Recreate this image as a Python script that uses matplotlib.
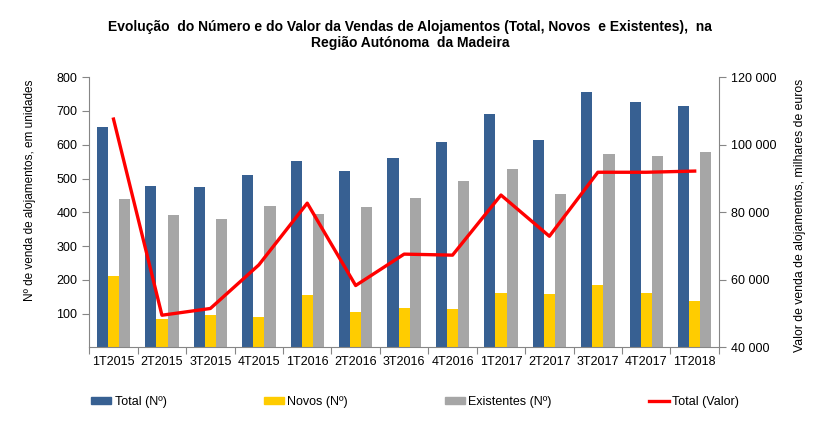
import matplotlib
matplotlib.use("Agg")
import matplotlib.pyplot as plt
import numpy as np
from matplotlib.ticker import FuncFormatter, FixedLocator
from matplotlib.patches import Patch
from matplotlib.lines import Line2D

plt.rcParams['font.family'] = ['Liberation Sans', 'DejaVu Sans']

categories = ["1T2015", "2T2015", "3T2015", "4T2015", "1T2016", "2T2016", "3T2016",
              "4T2016", "1T2017", "2T2017", "3T2017", "4T2017", "1T2018"]
total_n = [653, 478, 475, 511, 552, 522, 561, 608, 691, 614, 757, 727, 715]
novos_n = [211, 85, 96, 90, 155, 105, 117, 114, 161, 158, 185, 161, 138]
existentes_n = [440, 392, 380, 419, 395, 416, 442, 493, 528, 454, 573, 567, 579]
total_valor = [107600, 49500, 51500, 64400, 82700, 58300, 67600, 67300, 85100, 72900, 91850, 91850, 92200]

c_total = "#376092"
c_novos = "#FFCC00"
c_exist = "#A6A6A6"
c_line = "#FF0000"
spine_c = "#868686"

fig = plt.figure(figsize=(8.23, 4.22), dpi=100)
ax = fig.add_axes([0.1085, 0.177, 0.765, 0.64])
ax2 = ax.twinx()

x = np.arange(len(categories))
w = 0.23
ax.bar(x - w, total_n, w, color=c_total, zorder=2)
ax.bar(x, novos_n, w, color=c_novos, zorder=2)
ax.bar(x + w, existentes_n, w, color=c_exist, zorder=2)
ax2.plot(x, total_valor, color=c_line, lw=2.4, zorder=3)

ax.set_xlim(-0.5, len(categories) - 0.5)
ax.set_ylim(0, 800)
ax.set_yticks(range(100, 801, 100))
ax2.set_ylim(40000, 120000)
ax2.set_yticks(range(40000, 120001, 20000))
ax2.yaxis.set_major_formatter(FuncFormatter(lambda v, p: f"{int(v):,}".replace(",", " ")))

ax.xaxis.set_major_locator(FixedLocator(np.arange(-0.5, len(categories), 1.0)))
ax.xaxis.set_minor_locator(FixedLocator(x))
ax.set_xticklabels([], minor=False)
ax.set_xticklabels(categories, minor=True)
ax.tick_params(axis='x', which='major', length=5, color=spine_c, direction='out')
ax.tick_params(axis='x', which='minor', length=0, labelsize=9, pad=6)
ax.tick_params(axis='y', length=5, color=spine_c, labelsize=9)
ax2.tick_params(axis='y', length=5, color=spine_c, labelsize=9)

for a in (ax, ax2):
    a.spines['top'].set_visible(False)
    for s in ('left', 'right', 'bottom'):
        a.spines[s].set_color(spine_c)
ax2.spines['left'].set_visible(False)
ax2.spines['bottom'].set_visible(False)
ax.spines['right'].set_visible(False)

ax.set_ylabel("Nº de venda de alojamentos, em unidades", fontsize=8.5)
ax.yaxis.set_label_coords(-0.085, 0.583)
ax2.set_ylabel("Valor de venda de alojamentos, milhares de euros", fontsize=8.8)
ax2.yaxis.set_label_coords(1.119, 0.49)

fig.text(0.498, 0.917, "Evolução  do Número e do Valor da Vendas de Alojamentos (Total, Novos  e Existentes),  na\nRegião Autónoma  da Madeira",
         ha='center', va='center', fontsize=10, fontweight='bold', linespacing=1.2)

handles = [Patch(color=c_total), Patch(color=c_novos), Patch(color=c_exist),
           Line2D([0], [0], color=c_line, lw=2.4)]
labels = ["Total (Nº)", "Novos (Nº)", "Existentes (Nº)", "Total (Valor)"]
fig.legend(handles, labels, loc='center left', bbox_to_anchor=(0.105, 0.047), ncol=4,
           frameon=False, fontsize=9, handlelength=1.6, handleheight=0.5,
           handletextpad=0.25, columnspacing=7.8, borderaxespad=0)

fig.savefig("out.png", dpi=100)
